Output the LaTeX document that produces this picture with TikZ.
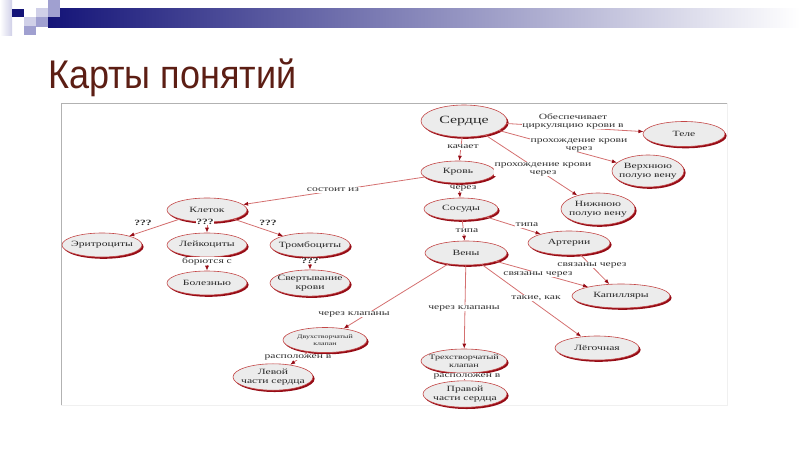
\documentclass[tikz,border=0pt]{standalone}
\usepackage{fontspec}
\setmainfont{Liberation Serif}
\newfontfamily\mapfont[FakeStretch=1.45]{Liberation Serif}
\newfontfamily\titlefont[FakeStretch=0.9]{Liberation Sans}
\usetikzlibrary{shapes.geometric,shadows,arrows.meta}
\definecolor{navy}{RGB}{20,20,120}
\definecolor{navymid}{RGB}{80,80,165}
\definecolor{sqlight}{RGB}{208,208,232}
\definecolor{sqmid}{RGB}{160,160,208}
\definecolor{titlecol}{RGB}{92,30,20}
\definecolor{cfill}{RGB}{236,236,236}
\definecolor{cborder}{RGB}{195,70,70}
\definecolor{cshadow}{RGB}{150,12,22}
\definecolor{clink}{RGB}{212,112,112}
\definecolor{ctext}{RGB}{40,40,40}
\definecolor{ltext}{RGB}{50,50,50}
\begin{document}
\begin{tikzpicture}[x=1pt,y=-1pt,
  concept/.style={ellipse,draw=cborder,line width=0.6pt,fill=cfill,
    drop shadow={shadow xshift=1.6pt,shadow yshift=-1.8pt,fill=cshadow,opacity=1},
    inner xsep=-6pt,inner ysep=1.5pt,minimum width=80pt,minimum height=24pt,align=center,
    font=\mapfont\fontsize{8}{8.5}\selectfont,text=ctext},
  linkword/.style={fill=white,inner sep=0.6pt,align=center,
    font=\mapfont\fontsize{8}{8}\selectfont,text=ltext},
  qq/.style={linkword,font=\mapfont\fontsize{8}{8}\selectfont\bfseries},
  link/.style={draw=clink,line width=0.8pt,-{Latex[length=5pt,width=4pt,color=cshadow]}}]
\useasboundingbox (0,0) rectangle (800,450);

% header
\shade[left color=white,right color=sqlight] (0,0) rectangle (12,35);
\shade[left color=navy,middle color=navymid,right color=white] (48,8) rectangle (800,27);
\fill[navy] (12,9) rectangle (24,17);
\fill[sqlight] (24,17) rectangle (36,26);
\fill[sqmid] (24,26) rectangle (36,35);
\fill[sqlight] (36,8) rectangle (48,17);
\fill[sqmid] (36,17) rectangle (48,27);
\fill[sqmid] (48,0) rectangle (60,8);
\fill[sqmid] (48,8) rectangle (60,17);
\node[anchor=base west,inner sep=0pt,text=titlecol,
  font=\titlefont\fontsize{40}{40}\selectfont] (title) at (48,88) {Карты понятий};

% frame of the map
\draw[gray!60] (61,405) -- (61,103) -- (727,103);
\draw[gray!12] (727,103) -- (727,405) -- (61,405);

% concepts
\node[concept,minimum width=86pt,minimum height=32pt,font=\mapfont\fontsize{11}{12}\selectfont] (serdce) at (464,121) {Сердце};
\node[concept,minimum width=82pt,minimum height=25pt] (tele) at (684,134) {Теле};
\node[concept,minimum width=72pt,minimum height=32pt] (verkh) at (648,171) {Верхнюю\\полую вену};
\node[concept,minimum width=74pt,minimum height=32pt] (nizh) at (598,209) {Нижнюю\\полую вену};
\node[concept,minimum width=74pt,minimum height=22pt] (krov) at (458,172) {Кровь};
\node[concept,minimum width=74pt,minimum height=22pt] (sosudy) at (461,209) {Сосуды};
\node[concept] (kletok) at (207,210) {Клеток};
\node[concept] (eritr) at (102,245) {Эритроциты};
\node[concept] (leyk) at (207,245) {Лейкоциты};
\node[concept] (tromb) at (310,245) {Тромбоциты};
\node[concept] (bolezn) at (207,283) {Болезнью};
\node[concept,minimum height=26pt] (svert) at (310,283) {Свертывание\\крови};
\node[concept,minimum width=82pt] (veny) at (466,253) {Вены};
\node[concept,minimum width=82pt] (arterii) at (569,243) {Артерии};
\node[concept,minimum width=98pt] (kapill) at (621,296) {Капилляры};
\node[concept,minimum width=84pt,minimum height=25pt,inner xsep=-3pt,font=\mapfont\fontsize{5.5}{6.5}\selectfont] (dvukh) at (325,340) {Двухстворчатый\\клапан};
\node[concept] (levoy) at (273,377) {Левой\\части сердца};
\node[concept,minimum width=86pt,inner xsep=-10pt,font=\mapfont\fontsize{7}{7.5}\selectfont] (trekh) at (464,361) {Трехстворчатый\\клапан};
\node[concept,minimum width=84pt,minimum height=23pt] (pravoy) at (465,394) {Правой\\части сердца};
\node[concept,minimum width=84pt] (legoch) at (597,348) {Лёгочная};

% connectors
\draw[link] (serdce) -- (tele);
\draw[link] (serdce) -- (verkh);
\draw[link] (serdce) -- (nizh);
\draw[link] (serdce) -- (krov);
\draw[link] (krov) -- (kletok);
\draw[link] (krov) -- (sosudy);
\draw[link] (kletok) -- (eritr);
\draw[link] (kletok) -- (leyk);
\draw[link] (kletok) -- (tromb);
\draw[link] (leyk) -- (bolezn);
\draw[link] (tromb) -- (svert);
\draw[link] (sosudy) -- (veny);
\draw[link] (sosudy) -- (arterii);
\draw[link] (veny) -- (kapill);
\draw[link] (arterii) -- (kapill);
\draw[link] (veny) -- (legoch);
\draw[link] (veny) -- (trekh);
\draw[link] (veny) -- (dvukh);
\draw[link] (dvukh) -- (levoy);
\draw[link] (trekh) -- (pravoy);

% linking words
\node[linkword] (lObesp) at (573,121) {Обеспечивает\\циркуляцию крови в};
\node[linkword] (lProkh1) at (579,145) {прохождение крови\\через};
\node[linkword] (lProkh2) at (543,169) {прохождение крови\\через};
\node[linkword] (lKachaet) at (463,147) {качает};
\node[linkword] (lSostoit) at (333,190) {состоит из};
\node[linkword] (lCherez) at (463,188) {через};
\node[linkword] (lTipa1) at (467,231) {типа};
\node[linkword] (lTipa2) at (527,225) {типа};
\node[linkword] (lSvyaz1) at (592,265) {связаны через};
\node[linkword] (lSvyaz2) at (538,274) {связаны через};
\node[linkword] (lTakie) at (536,298) {такие, как};
\node[linkword] (lKlap1) at (464,308) {через клапаны};
\node[linkword] (lKlap2) at (354,314) {через клапаны};
\node[linkword] (lRaspol1) at (298,357) {расположен в};
\node[linkword] (lRaspol2) at (467,376) {расположен в};
\node[qq] (lQ1) at (143,223) {???};
\node[qq] (lQ2) at (205,222) {???};
\node[qq] (lQ3) at (268,223) {???};
\node[linkword] (lBoryutsya) at (207,261) {борются с};
\node[qq] (lQ4) at (310,261) {???};
\end{tikzpicture}
\end{document}
